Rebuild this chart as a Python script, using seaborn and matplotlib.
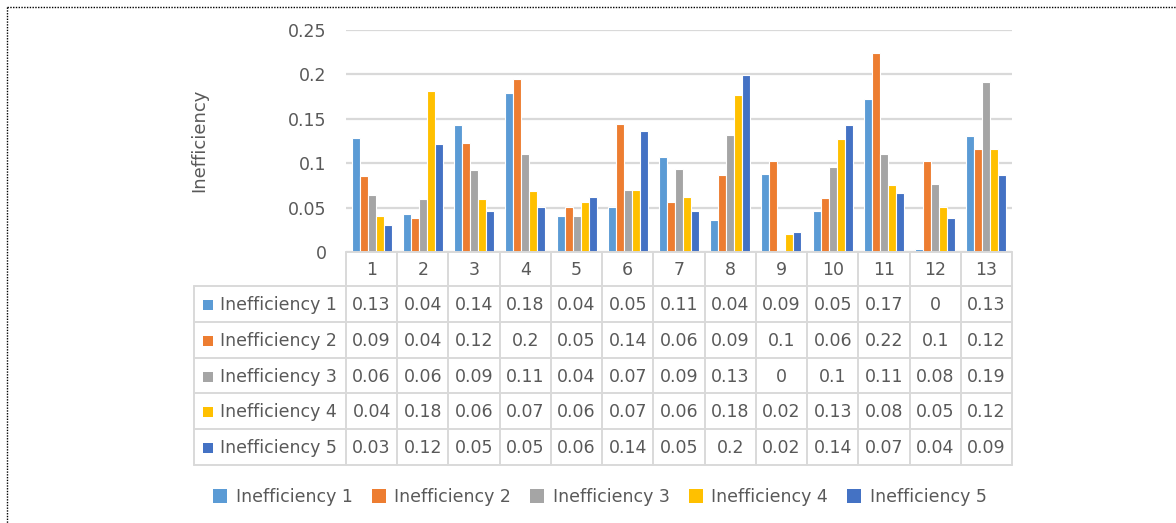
import matplotlib
matplotlib.use("Agg")
import matplotlib.pyplot as plt
from matplotlib.patches import Patch
import seaborn as sns
import pandas as pd

# data (bar heights), table shows them rounded to 2 decimals
categories = [str(i) for i in range(1, 14)]
series = ["Inefficiency 1", "Inefficiency 2", "Inefficiency 3", "Inefficiency 4", "Inefficiency 5"]
ineff_1 = [0.128, 0.043, 0.143, 0.179, 0.040, 0.051, 0.107, 0.036, 0.088, 0.046, 0.172, 0.003, 0.131]
ineff_2 = [0.086, 0.038, 0.123, 0.195, 0.051, 0.144, 0.056, 0.087, 0.103, 0.061, 0.224, 0.103, 0.116]
ineff_3 = [0.064, 0.060, 0.092, 0.110, 0.041, 0.070, 0.093, 0.132, 0.000, 0.096, 0.110, 0.077, 0.192]
ineff_4 = [0.041, 0.181, 0.060, 0.069, 0.056, 0.070, 0.062, 0.177, 0.020, 0.127, 0.076, 0.051, 0.116]
ineff_5 = [0.030, 0.122, 0.046, 0.051, 0.062, 0.136, 0.046, 0.199, 0.022, 0.143, 0.067, 0.038, 0.087]
colors = ["#5B9BD5", "#ED7D31", "#A5A5A5", "#FFC000", "#4472C4"]

values = [ineff_1, ineff_2, ineff_3, ineff_4, ineff_5]
df = pd.DataFrame({
    "cat": categories * len(series),
    "series": [s for s in series for _ in categories],
    "val": [v for vals in values for v in vals],
})

TXT = "#595959"
GRID = "#D9D9D9"
FS = 12.5
W, H = 1176, 523

sns.set_style("white")
plt.rcParams["font.family"] = ["DejaVu Sans"]

fig = plt.figure(figsize=(W / 100, H / 100), dpi=100)


def fx(x):
    return x / W


def fy(y):
    return 1 - y / H


# pixel layout
left, right, top, axis_y = 346, 1012, 30, 252
col_w = (right - left) / len(categories)
row_edges = [252, 286, 322, 358, 393, 429, 465]
tab_left = 194

ax = fig.add_axes([fx(left), fy(axis_y), fx(right - left), (axis_y - top) / H])
sns.barplot(data=df, x="cat", y="val", hue="series", palette=colors, saturation=1,
            width=0.78, edgecolor="white", linewidth=0.8, legend=False, ax=ax)
ax.set_ylim(0, 0.25)
ax.set_xlim(-0.5, len(categories) - 0.5)
ticks = [0, 0.05, 0.1, 0.15, 0.2, 0.25]
ax.set_yticks(ticks)
ax.set_yticklabels([f"{t:g}" for t in ticks], color=TXT, fontsize=FS)
ax.tick_params(axis="y", length=0, pad=14)
ax.set_xticks([])
ax.set_xlabel("")
ax.set_ylabel("")
ax.yaxis.grid(True, color=GRID, linewidth=1.6)
ax.set_axisbelow(True)
for s in ax.spines.values():
    s.set_visible(False)

fig.text(fx(199), fy(140), "Inefficiency", rotation=90, ha="center", va="center",
         color=TXT, fontsize=13)

# data table below the bars
tab = fig.add_axes([0, 0, 1, 1], facecolor="none")
tab.set_xlim(0, W)
tab.set_ylim(H, 0)
tab.axis("off")
lw = 1.4
# header row (category labels)
tab.plot([left, right], [row_edges[0], row_edges[0]], color=GRID, lw=lw)
for r in row_edges[1:]:
    tab.plot([tab_left, right], [r, r], color=GRID, lw=lw)
for i in range(len(categories) + 1):
    x = left + i * col_w
    tab.plot([x, x], [row_edges[0], row_edges[-1]], color=GRID, lw=lw)
tab.plot([tab_left, tab_left], [row_edges[1], row_edges[-1]], color=GRID, lw=lw)

for i, c in enumerate(categories):
    cx = left + (i + 0.5) * col_w
    tab.text(cx, (row_edges[0] + row_edges[1]) / 2 + 1, c, ha="center", va="center",
             color=TXT, fontsize=FS)
for j, (name, vals) in enumerate(zip(series, values)):
    cy = (row_edges[j + 1] + row_edges[j + 2]) / 2 + 1
    tab.add_patch(plt.Rectangle((203, cy - 5), 10, 10, color=colors[j], lw=0))
    tab.text(220, cy, name, ha="left", va="center", color=TXT, fontsize=FS)
    for i, v in enumerate(vals):
        cx = left + (i + 0.5) * col_w
        tab.text(cx, cy, f"{round(v, 2):g}", ha="center", va="center",
                 color=TXT, fontsize=FS)

# dotted frame (top and left edges visible)
tab.plot([7, W], [7, 7], color="black", lw=1, ls=(0, (1, 1)))
tab.plot([7, 7], [7, H], color="black", lw=1, ls=(0, (1, 1)))

handles = [Patch(facecolor=c, edgecolor="none") for c in colors]
fig.legend(handles, series, loc="center", bbox_to_anchor=(fx(600), fy(497)),
           ncol=5, frameon=False, fontsize=FS, labelcolor=TXT,
           handlelength=0.8, handleheight=0.8, handletextpad=0.5, columnspacing=1.1)

fig.savefig("out.png", dpi=100)
